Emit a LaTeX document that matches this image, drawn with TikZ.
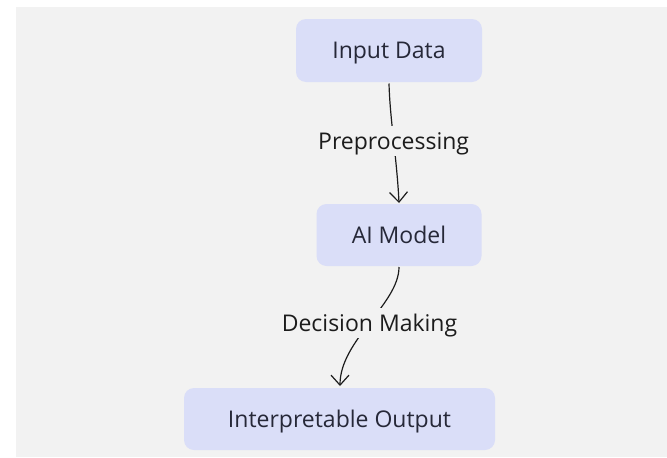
\documentclass[tikz,border=0pt]{standalone}
\usepackage{fontspec}
\setmainfont{Open Sans}
\usetikzlibrary{arrows.meta}
\definecolor{canvas}{HTML}{F2F2F2}
\definecolor{boxfill}{HTML}{DADEF8}
\definecolor{boxtext}{HTML}{262838}
\definecolor{ink}{HTML}{1C1C1C}
\tikzset{
  labelfont/.style={font=\fontsize{23}{27}\selectfont, text height=16.5pt, text depth=0pt},
  stage/.style={labelfont, fill=boxfill, rounded corners=10pt, text=boxtext, inner sep=0pt},
  flow/.style={draw=ink, line width=1.2pt,
    -{Straight Barb[length=10pt,width=18pt,line width=1.2pt]}},
  flowlabel/.style={labelfont, fill=canvas, text=ink, inner xsep=3pt, inner ysep=7pt}
}
\begin{document}
\begin{tikzpicture}[x=1pt,y=-1pt]
  \useasboundingbox (0,0) rectangle (667,458);
  \fill[canvas] (16,7) rectangle (667,457);

  \node[stage, minimum width=186pt, minimum height=63pt] (input) at (389,50.5) {Input Data};
  \node[stage, minimum width=165pt, minimum height=62pt] (model) at (399,235) {AI Model};
  \node[stage, minimum width=311pt, minimum height=62pt] (output) at (339.5,419) {Interpretable Output};

  \coordinate (inA) at (389,83.5);
  \coordinate (inB) at (399,203);
  \coordinate (dmA) at (399,267);
  \coordinate (dmB) at (340,386);

  \draw[flow] (inA) .. controls (390,120) and (397,160) .. (inB)
    node[flowlabel, pos=0.5] (prep) {Preprocessing};
  \draw[flow] (dmA) .. controls (399,304) and (340,340) .. (dmB)
    node[flowlabel, pos=0.5] (decide) {Decision Making};
\end{tikzpicture}
\end{document}
